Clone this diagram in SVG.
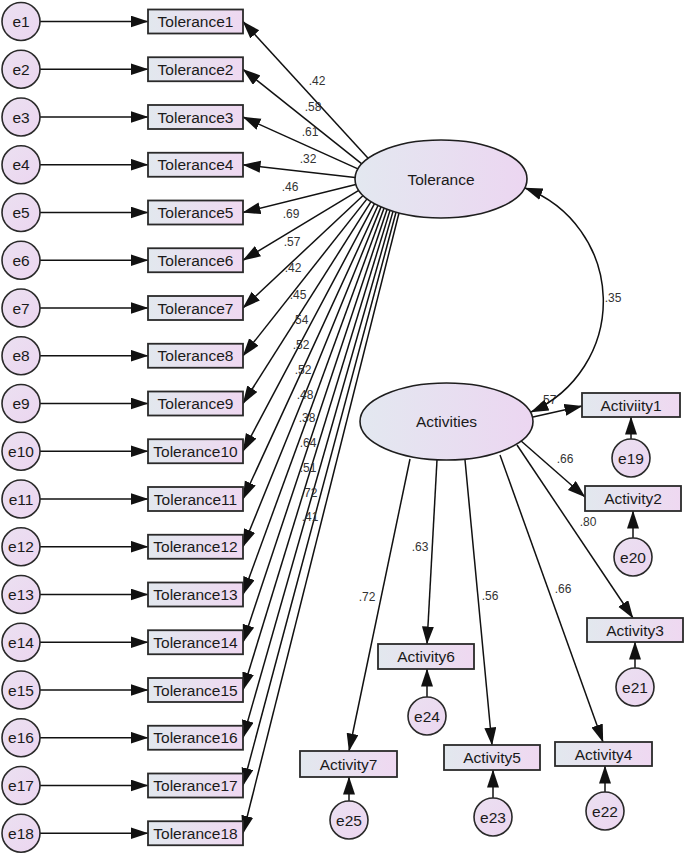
<svg xmlns="http://www.w3.org/2000/svg" width="685" height="856" viewBox="0 0 685 856">
<style>
.n{font-family:"Liberation Sans",Arial,sans-serif;font-size:15.5px;fill:#1a1a1a;text-anchor:middle}
.l{font-family:"Liberation Sans",Arial,sans-serif;font-size:12px;fill:#333;text-anchor:middle}
.box{fill:url(#gb);stroke:#2a2a2a;stroke-width:1.8}
.err{fill:url(#gc);stroke:#2a2a2a;stroke-width:1.6}
.lat{fill:url(#ge);stroke:#1e1e1e;stroke-width:1.6}
.c{fill:none;stroke:#111;stroke-width:1.5;marker-end:url(#ah)}
.cc{fill:none;stroke:#111;stroke-width:1.5;marker-end:url(#ah);marker-start:url(#ah)}
</style>
<defs>
<linearGradient id="gb" x1="0" y1="0" x2="1" y2="0"><stop offset="0" stop-color="#e2e8ee"/><stop offset="1" stop-color="#efd8f1"/></linearGradient>
<linearGradient id="ge" x1="0" y1="0" x2="1" y2="0"><stop offset="0" stop-color="#e3e8f0"/><stop offset="1" stop-color="#ecd6f1"/></linearGradient>
<linearGradient id="gc" x1="0" y1="0" x2="1" y2="1"><stop offset="0" stop-color="#ebe0f1"/><stop offset="1" stop-color="#ecd6f0"/></linearGradient>
<marker id="ah" markerUnits="userSpaceOnUse" markerWidth="20" markerHeight="14" refX="17.5" refY="6" orient="auto-start-reverse"><path d="M0,0 L18,6 L0,12 z" fill="#111"/></marker>
</defs>
<g id="connectors">
<path class="c" d="M40 21.5H148"/>
<path class="c" d="M40 69.25H148"/>
<path class="c" d="M40 117H148"/>
<path class="c" d="M40 164.75H148"/>
<path class="c" d="M40 212.5H148"/>
<path class="c" d="M40 260.25H148"/>
<path class="c" d="M40 308H148"/>
<path class="c" d="M40 355.75H148"/>
<path class="c" d="M40 403.5H148"/>
<path class="c" d="M40 451.25H148"/>
<path class="c" d="M40 499H148"/>
<path class="c" d="M40 546.75H148"/>
<path class="c" d="M40 594.5H148"/>
<path class="c" d="M40 642.25H148"/>
<path class="c" d="M40 690H148"/>
<path class="c" d="M40 737.75H148"/>
<path class="c" d="M40 785.5H148"/>
<path class="c" d="M40 833.25H148"/>
<path class="c" d="M368.1 158.3L243 21.5"/>
<path class="c" d="M361.8 163.8L243 69.25"/>
<path class="c" d="M357.9 168.9L243 117"/>
<path class="c" d="M355.1 177.6L243 164.75"/>
<path class="c" d="M355.8 184.4L243 212.5"/>
<path class="c" d="M358.8 190.4L243 260.25"/>
<path class="c" d="M363.1 195.5L243 308"/>
<path class="c" d="M367 198.9L243 355.75"/>
<path class="c" d="M371 201.7L243 403.5"/>
<path class="c" d="M374.5 203.7L243 451.25"/>
<path class="c" d="M378 205.5L243 499"/>
<path class="c" d="M381 206.9L243 546.75"/>
<path class="c" d="M384 208.2L243 594.5"/>
<path class="c" d="M387 209.4L243 642.25"/>
<path class="c" d="M390 210.4L243 690"/>
<path class="c" d="M393 211.4L243 737.75"/>
<path class="c" d="M396 212.2L243 785.5"/>
<path class="c" d="M399 213L243 833.25"/>
<path class="c" d="M533 417L582 406"/>
<path class="c" d="M520 440L585 497"/>
<path class="c" d="M517 445L633 618"/>
<path class="c" d="M500 455L603 742"/>
<path class="c" d="M465 460L492 745"/>
<path class="c" d="M437 460L427 644"/>
<path class="c" d="M410 459L349 751"/>
<path class="c" d="M631 439V417"/>
<path class="c" d="M633 538V511"/>
<path class="c" d="M635 668V642"/>
<path class="c" d="M427 697V669"/>
<path class="c" d="M349 801V777"/>
<path class="c" d="M493 798V770"/>
<path class="c" d="M605 792V766"/>
<g id="labels">
<text class="l" x="317" y="85.3">.42</text>
<text class="l" x="313" y="111.3">.58</text>
<text class="l" x="310" y="136.3">.61</text>
<text class="l" x="308" y="163.3">.32</text>
<text class="l" x="290" y="191.3">.46</text>
<text class="l" x="291" y="218.3">.69</text>
<text class="l" x="292" y="246.3">.57</text>
<text class="l" x="293" y="272.3">.42</text>
<text class="l" x="298" y="299.3">.45</text>
<text class="l" x="300" y="324.3">.54</text>
<text class="l" x="301" y="349.3">.52</text>
<text class="l" x="303" y="374.3">.52</text>
<text class="l" x="305" y="399.3">.48</text>
<text class="l" x="307" y="422.3">.38</text>
<text class="l" x="308" y="447.3">.64</text>
<text class="l" x="308" y="472.3">.51</text>
<text class="l" x="309" y="497.3">.72</text>
<text class="l" x="310" y="521.3">.41</text>
<text class="l" x="548" y="404.3">.57</text>
<text class="l" x="565" y="463.3">.66</text>
<text class="l" x="588" y="526.3">.80</text>
<text class="l" x="563" y="593.3">.66</text>
<text class="l" x="490" y="600.3">.56</text>
<text class="l" x="420" y="551.3">.63</text>
<text class="l" x="367" y="601.3">.72</text>
<text class="l" x="613" y="302.3">.35</text>
</g>
<path class="cc" d="M525 188A121 121 0 0 1 531 412"/>
</g>
<g id="Tolerance"><ellipse class="lat" cx="441" cy="179" rx="86" ry="39"/><text class="n" x="441" y="184.5">Tolerance</text></g>
<g id="Activities"><ellipse class="lat" cx="446.5" cy="421.5" rx="86.5" ry="38.5"/><text class="n" x="446.5" y="427">Activities</text></g>
<g id="e1"><circle class="err" cx="21" cy="21.5" r="19"/><text class="n" x="21" y="27">e1</text></g>
<g id="e2"><circle class="err" cx="21" cy="69.25" r="19"/><text class="n" x="21" y="74.75">e2</text></g>
<g id="e3"><circle class="err" cx="21" cy="117" r="19"/><text class="n" x="21" y="122.5">e3</text></g>
<g id="e4"><circle class="err" cx="21" cy="164.75" r="19"/><text class="n" x="21" y="170.25">e4</text></g>
<g id="e5"><circle class="err" cx="21" cy="212.5" r="19"/><text class="n" x="21" y="218">e5</text></g>
<g id="e6"><circle class="err" cx="21" cy="260.25" r="19"/><text class="n" x="21" y="265.75">e6</text></g>
<g id="e7"><circle class="err" cx="21" cy="308" r="19"/><text class="n" x="21" y="313.5">e7</text></g>
<g id="e8"><circle class="err" cx="21" cy="355.75" r="19"/><text class="n" x="21" y="361.25">e8</text></g>
<g id="e9"><circle class="err" cx="21" cy="403.5" r="19"/><text class="n" x="21" y="409">e9</text></g>
<g id="e10"><circle class="err" cx="21" cy="451.25" r="19"/><text class="n" x="21" y="456.75">e10</text></g>
<g id="e11"><circle class="err" cx="21" cy="499" r="19"/><text class="n" x="21" y="504.5">e11</text></g>
<g id="e12"><circle class="err" cx="21" cy="546.75" r="19"/><text class="n" x="21" y="552.25">e12</text></g>
<g id="e13"><circle class="err" cx="21" cy="594.5" r="19"/><text class="n" x="21" y="600">e13</text></g>
<g id="e14"><circle class="err" cx="21" cy="642.25" r="19"/><text class="n" x="21" y="647.75">e14</text></g>
<g id="e15"><circle class="err" cx="21" cy="690" r="19"/><text class="n" x="21" y="695.5">e15</text></g>
<g id="e16"><circle class="err" cx="21" cy="737.75" r="19"/><text class="n" x="21" y="743.25">e16</text></g>
<g id="e17"><circle class="err" cx="21" cy="785.5" r="19"/><text class="n" x="21" y="791">e17</text></g>
<g id="e18"><circle class="err" cx="21" cy="833.25" r="19"/><text class="n" x="21" y="838.75">e18</text></g>
<g id="Tolerance1"><rect class="box" x="148" y="9.5" width="95" height="24"/><text class="n" x="195.5" y="27">Tolerance1</text></g>
<g id="Tolerance2"><rect class="box" x="148" y="57.25" width="95" height="24"/><text class="n" x="195.5" y="74.75">Tolerance2</text></g>
<g id="Tolerance3"><rect class="box" x="148" y="105" width="95" height="24"/><text class="n" x="195.5" y="122.5">Tolerance3</text></g>
<g id="Tolerance4"><rect class="box" x="148" y="152.75" width="95" height="24"/><text class="n" x="195.5" y="170.25">Tolerance4</text></g>
<g id="Tolerance5"><rect class="box" x="148" y="200.5" width="95" height="24"/><text class="n" x="195.5" y="218">Tolerance5</text></g>
<g id="Tolerance6"><rect class="box" x="148" y="248.25" width="95" height="24"/><text class="n" x="195.5" y="265.75">Tolerance6</text></g>
<g id="Tolerance7"><rect class="box" x="148" y="296" width="95" height="24"/><text class="n" x="195.5" y="313.5">Tolerance7</text></g>
<g id="Tolerance8"><rect class="box" x="148" y="343.75" width="95" height="24"/><text class="n" x="195.5" y="361.25">Tolerance8</text></g>
<g id="Tolerance9"><rect class="box" x="148" y="391.5" width="95" height="24"/><text class="n" x="195.5" y="409">Tolerance9</text></g>
<g id="Tolerance10"><rect class="box" x="148" y="439.25" width="95" height="24"/><text class="n" x="195.5" y="456.75">Tolerance10</text></g>
<g id="Tolerance11"><rect class="box" x="148" y="487" width="95" height="24"/><text class="n" x="195.5" y="504.5">Tolerance11</text></g>
<g id="Tolerance12"><rect class="box" x="148" y="534.75" width="95" height="24"/><text class="n" x="195.5" y="552.25">Tolerance12</text></g>
<g id="Tolerance13"><rect class="box" x="148" y="582.5" width="95" height="24"/><text class="n" x="195.5" y="600">Tolerance13</text></g>
<g id="Tolerance14"><rect class="box" x="148" y="630.25" width="95" height="24"/><text class="n" x="195.5" y="647.75">Tolerance14</text></g>
<g id="Tolerance15"><rect class="box" x="148" y="678" width="95" height="24"/><text class="n" x="195.5" y="695.5">Tolerance15</text></g>
<g id="Tolerance16"><rect class="box" x="148" y="725.75" width="95" height="24"/><text class="n" x="195.5" y="743.25">Tolerance16</text></g>
<g id="Tolerance17"><rect class="box" x="148" y="773.5" width="95" height="24"/><text class="n" x="195.5" y="791">Tolerance17</text></g>
<g id="Tolerance18"><rect class="box" x="148" y="821.25" width="95" height="24"/><text class="n" x="195.5" y="838.75">Tolerance18</text></g>
<g id="Activity1"><rect class="box" x="582" y="393" width="98" height="24"/><text class="n" x="631" y="410.5">Activiity1</text></g>
<g id="Activity2"><rect class="box" x="585" y="486" width="96" height="25"/><text class="n" x="633" y="504">Activity2</text></g>
<g id="Activity3"><rect class="box" x="587" y="618" width="96" height="24"/><text class="n" x="635" y="635.5">Activity3</text></g>
<g id="Activity4"><rect class="box" x="555" y="742" width="97" height="24"/><text class="n" x="603.5" y="759.5">Activity4</text></g>
<g id="Activity5"><rect class="box" x="444" y="745" width="96" height="25"/><text class="n" x="492" y="763">Activity5</text></g>
<g id="Activity6"><rect class="box" x="378" y="644" width="96" height="25"/><text class="n" x="426" y="662">Activity6</text></g>
<g id="Activity7"><rect class="box" x="300" y="751" width="97" height="26"/><text class="n" x="348.5" y="769.5">Activity7</text></g>
<g id="e19"><circle class="err" cx="631" cy="458" r="19"/><text class="n" x="631" y="463.5">e19</text></g>
<g id="e20"><circle class="err" cx="633" cy="557" r="19"/><text class="n" x="633" y="562.5">e20</text></g>
<g id="e21"><circle class="err" cx="635" cy="687" r="19"/><text class="n" x="635" y="692.5">e21</text></g>
<g id="e22"><circle class="err" cx="605" cy="811" r="19"/><text class="n" x="605" y="816.5">e22</text></g>
<g id="e23"><circle class="err" cx="493" cy="817" r="19"/><text class="n" x="493" y="822.5">e23</text></g>
<g id="e24"><circle class="err" cx="427" cy="716" r="19"/><text class="n" x="427" y="721.5">e24</text></g>
<g id="e25"><circle class="err" cx="349" cy="820" r="19"/><text class="n" x="349" y="825.5">e25</text></g>
</svg>
